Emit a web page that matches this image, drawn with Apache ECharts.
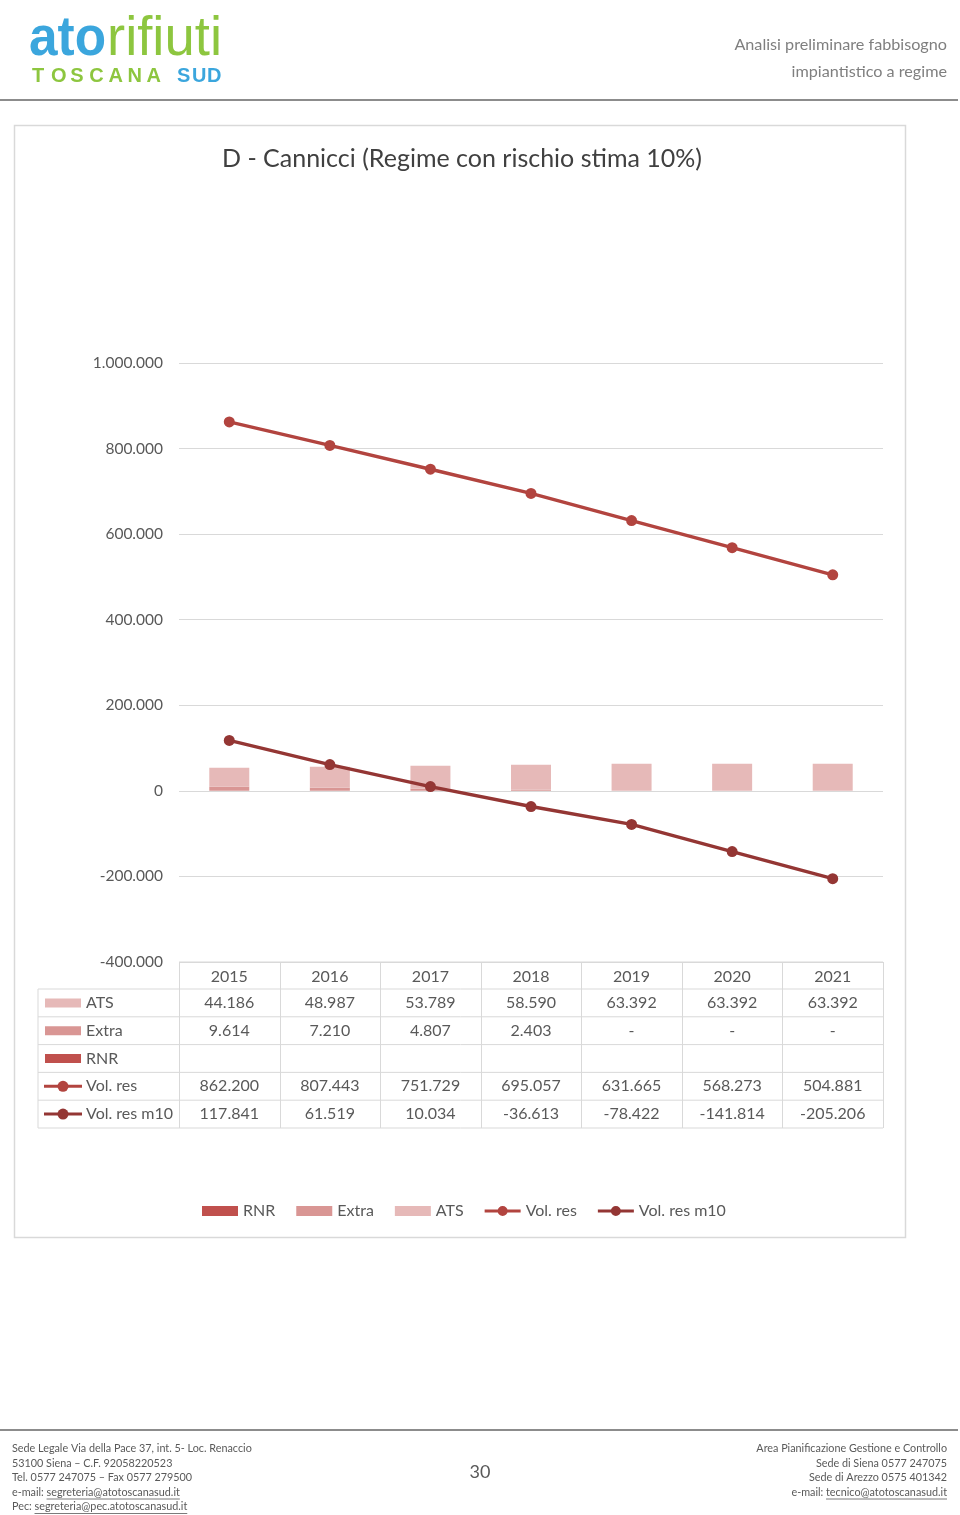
<!DOCTYPE html>
<html>
<head>
<meta charset="utf-8">
<script src="https://cdn.jsdelivr.net/npm/echarts@6/dist/echarts.min.js"></script>
<style>
html,body{margin:0;padding:0;background:#fff;}
#main{width:960px;height:1515px;}
</style>
</head>
<body>
<div id="main"></div>
<script>
// ---- data ----
var years = ['2015', '2016', '2017', '2018', '2019', '2020', '2021'];
var ats = [44186, 48987, 53789, 58590, 63392, 63392, 63392];
var extra = [9614, 7210, 4807, 2403, 0, 0, 0];
var rnr = [null, null, null, null, null, null, null];
var volRes = [862200, 807443, 751729, 695057, 631665, 568273, 504881];
var volResM10 = [117841, 61519, 10034, -36613, -78422, -141814, -205206];
var seriesNames = ['RNR', 'Extra', 'ATS', 'Vol. res', 'Vol. res m10'];
var title = 'D - Cannicci (Regime con rischio stima 10%)';

var FONT = 'Lato, "Liberation Sans", sans-serif';
var TXT = '#595959';
var GRID = '#D9D9D9';
var C_RNR = '#C0504D', C_EXTRA = '#D99694', C_ATS = '#E6B9B8';
var C_VOL = '#B2443F', C_M10 = '#943634';
var LINE_ICON = 'path://M0,3.5H36V6.5H0Z M23,5A5,5,0,1,1,13,5A5,5,0,1,1,23,5Z';

function fmt(n) {
  if (n === null || n === undefined) return '';
  if (n === 0) return '-';
  var s = String(Math.abs(n)).replace(/\B(?=(\d{3})+(?!\d))/g, '.');
  return (n < 0 ? '-' : '') + s;
}

var mctx = document.createElement('canvas').getContext('2d');
function measure(text, font) { mctx.font = font; return mctx.measureText(text).width; }

var chart = echarts.init(document.getElementById('main'), null, {renderer: 'canvas'});

var legendData = seriesNames.map(function (n, i) {
  return i >= 3 ? {name: n, icon: LINE_ICON} : {name: n, icon: 'rect'};
});

var option = {
  animation: false,
  backgroundColor: '#fff',
  title: {
    text: title, left: 457, top: 141, textAlign: 'center',
    textStyle: {fontFamily: FONT, fontSize: 25, fontWeight: 'normal', color: '#404040'}
  },
  grid: {left: 179, right: 77, top: 363, bottom: 553, containLabel: false},
  legend: {
    data: legendData, left: 202, top: 1203, padding: 0, itemWidth: 36, itemHeight: 10, itemGap: 21,
    textStyle: {fontFamily: FONT, fontSize: 16, color: TXT}
  },
  xAxis: {
    type: 'category', data: years,
    axisLine: {show: false}, axisTick: {show: false}, axisLabel: {show: false}
  },
  yAxis: {
    type: 'value', min: -400000, max: 1000000, interval: 200000,
    axisLine: {show: false}, axisTick: {show: false},
    axisLabel: {formatter: function (v) { return fmt(v) === '-' ? '0' : fmt(v); }, fontFamily: FONT, fontSize: 15.5, color: TXT, margin: 16},
    splitLine: {lineStyle: {color: GRID, width: 1}}
  },
  series: [
    {name: 'RNR', type: 'bar', stack: 's', data: rnr, barWidth: 40, itemStyle: {color: C_RNR}},
    {name: 'Extra', type: 'bar', stack: 's', data: extra, barWidth: 40, itemStyle: {color: C_EXTRA}},
    {name: 'ATS', type: 'bar', stack: 's', data: ats, barWidth: 40, itemStyle: {color: C_ATS}},
    {name: 'Vol. res', type: 'line', data: volRes, symbol: 'circle', symbolSize: 11, z: 5,
      lineStyle: {color: C_VOL, width: 3.4}, itemStyle: {color: C_VOL}},
    {name: 'Vol. res m10', type: 'line', data: volResM10, symbol: 'circle', symbolSize: 11, z: 6,
      lineStyle: {color: C_M10, width: 3.4}, itemStyle: {color: C_M10}}
  ]
};
chart.setOption(option);

// ---- graphic: page header/footer, frame, data table ----
var g = [];
function txt(t, x, y, o) {
  o = o || {};
  g.push({type: 'text', silent: true, z: o.z || 10, x: o.gx || 0, y: o.gy || 0,
    scaleX: o.scaleX || 1, originX: o.originX || 0, originY: o.originY || 0,
    style: {text: t, x: x, y: y, fill: o.fill || TXT, fontFamily: o.fontFamily || FONT,
      fontSize: o.fontSize || 15, fontWeight: o.fontWeight || 'normal',
      align: o.align || 'left', verticalAlign: o.verticalAlign || 'middle'}});
}
function line(x1, y1, x2, y2, stroke, w) {
  g.push({type: 'line', silent: true, z: 9, shape: {x1: x1, y1: y1, x2: x2, y2: y2},
    style: {stroke: stroke, lineWidth: w || 1}});
}

// chart frame
g.push({type: 'rect', silent: true, z: 0, shape: {x: 14.5, y: 125.5, width: 891, height: 1112},
  style: {fill: 'none', stroke: GRID, lineWidth: 1.5}});

// logo
var logoFont = '"Liberation Sans", Arial, sans-serif';
var wAto = measure('ato', 'bold 56px ' + logoFont);
txt('ato', 0, 0, {fontFamily: logoFont, fontSize: 56, fontWeight: 'bold', fill: '#3BA6DD',
  gx: 29, gy: 40, scaleX: 77 / wAto});
var wRif = measure('rifiuti', 'normal 56px ' + logoFont);
txt('rifiuti', 0, 0, {fontFamily: logoFont, fontSize: 56, fill: '#8DC63F',
  gx: 107, gy: 40, scaleX: 115 / wRif});
var tos = 'TOSCANA';
for (var i = 0; i < tos.length; i++) {
  txt(tos[i], 32 + i * 19.1, 76, {fontFamily: logoFont, fontSize: 20, fontWeight: 'bold', fill: '#8DC63F'});
}
var sud = 'SUD';
for (var j = 0; j < sud.length; j++) {
  txt(sud[j], 177 + j * 15, 76, {fontFamily: logoFont, fontSize: 20, fontWeight: 'bold', fill: '#3BA6DD'});
}

// header right
txt('Analisi preliminare fabbisogno', 947, 45, {align: 'right', fontSize: 16.2, fill: '#7F7F7F'});
txt('impiantistico a regime', 947, 72, {align: 'right', fontSize: 16.2, fill: '#7F7F7F'});
line(0, 100, 958, 100, '#8C8C8C', 2);

// footer
line(0, 1430, 958, 1430, '#8C8C8C', 2);
var ff = 10.8;
var fl = ['Sede Legale Via della Pace 37, int. 5- Loc. Renaccio', '53100 Siena \u2013 C.F. 92058220523',
  'Tel. 0577 247075 \u2013 Fax 0577 279500'];
var fy = [1449, 1463.5, 1478, 1492.5, 1507];
for (var k = 0; k < fl.length; k++) txt(fl[k], 12, fy[k], {fontSize: ff});
function linked(prefix, link, x, y, alignRight) {
  var f = ff + 'px ' + FONT;
  var wp = measure(prefix, f), wl = measure(link, f);
  var x0 = alignRight ? x - wp - wl : x;
  txt(prefix, x0, y, {fontSize: ff});
  txt(link, x0 + wp, y, {fontSize: ff});
  line(x0 + wp, y + 6.5, x0 + wp + wl, y + 6.5, TXT, 0.8);
}
linked('e-mail: ', 'segreteria@atotoscanasud.it', 12, fy[3], false);
linked('Pec: ', 'segreteria@pec.atotoscanasud.it', 12, fy[4], false);
var fr = ['Area Pianificazione Gestione e Controllo', 'Sede di Siena 0577 247075', 'Sede di Arezzo 0575 401342'];
for (var r = 0; r < fr.length; r++) txt(fr[r], 947, fy[r], {fontSize: ff, align: 'right'});
linked('e-mail: ', 'tecnico@atotoscanasud.it', 947, fy[3], true);
txt('30', 480, 1472, {fontSize: 18, align: 'center'});

// data table below the plot
var gridRect = chart.getModel().getComponent('grid').coordinateSystem.getRect();
var tTop = gridRect.y + gridRect.height;   // 962
var tLeft = gridRect.x, tRight = gridRect.x + gridRect.width;
var keyLeft = 38;
var hdrH = 27, rowH = 27.8;
var colW = gridRect.width / years.length;
// header row
line(tLeft, tTop, tRight, tTop, GRID, 1);
for (var c = 0; c < years.length; c++) {
  var cx = chart.convertToPixel({xAxisIndex: 0}, years[c]);
  txt(years[c], cx, tTop + hdrH / 2 + 1, {align: 'center', fontSize: 16});
}
var rows = [
  {name: 'ATS', vals: ats, key: 'rect', color: C_ATS},
  {name: 'Extra', vals: extra, key: 'rect', color: C_EXTRA},
  {name: 'RNR', vals: rnr, key: 'rect', color: C_RNR},
  {name: 'Vol. res', vals: volRes, key: 'line', color: C_VOL},
  {name: 'Vol. res m10', vals: volResM10, key: 'line', color: C_M10}
];
var y0 = tTop + hdrH;
for (var ri = 0; ri < rows.length; ri++) {
  var ry = y0 + ri * rowH;
  line(keyLeft, ry, tRight, ry, GRID, 1);
  var cy = ry + rowH / 2;
  var row = rows[ri];
  if (row.key === 'rect') {
    g.push({type: 'rect', silent: true, z: 10, shape: {x: 45, y: cy - 4.5, width: 36, height: 9}, style: {fill: row.color}});
  } else {
    line(44, cy, 82, cy, row.color, 3);
    g.push({type: 'circle', silent: true, z: 11, shape: {cx: 63, cy: cy, r: 5.5}, style: {fill: row.color}});
  }
  txt(row.name, 86, cy, {fontSize: 16});
  for (var cc = 0; cc < years.length; cc++) {
    var px = chart.convertToPixel({xAxisIndex: 0}, years[cc]);
    txt(fmt(row.vals[cc]), px, cy, {align: 'center', fontSize: 16});
  }
}
var yEnd = y0 + rows.length * rowH;
line(keyLeft, yEnd, tRight, yEnd, GRID, 1);
line(keyLeft, y0, keyLeft, yEnd, GRID, 1);
for (var vc = 0; vc <= years.length; vc++) {
  var vx = Math.round(tLeft + vc * colW) + 0.5;
  line(vx, tTop, vx, yEnd, GRID, 1);
}

chart.setOption({graphic: {elements: g}});
</script>
</body>
</html>
